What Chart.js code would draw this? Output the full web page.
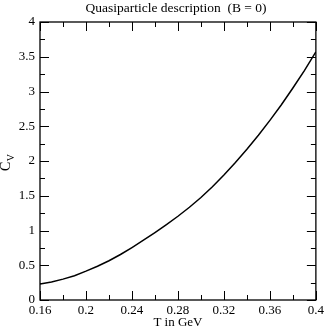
<!DOCTYPE html>
<html>
<head>
<meta charset="utf-8">
<script src="https://cdn.jsdelivr.net/npm/chart.js@4"></script>
<style>
    html, body { margin: 0; padding: 0; background: #fff; }
    canvas { display: block; }
</style>
</head>
<body>
<canvas id="cvChart" width="327" height="329"></canvas>
<script>
// Specific heat vs temperature, quasiparticle description (B = 0)
const temps = [0.16, 0.17, 0.18, 0.19, 0.20, 0.21, 0.22, 0.23, 0.24, 0.25, 0.26, 0.27, 0.28,
    0.29, 0.30, 0.31, 0.32, 0.33, 0.34, 0.35, 0.36, 0.37, 0.38, 0.39, 0.40];
const cv = [0.23, 0.26, 0.30, 0.35, 0.415, 0.485, 0.565, 0.655, 0.755, 0.86, 0.97, 1.085, 1.205,
    1.335, 1.475, 1.63, 1.80, 1.98, 2.17, 2.37, 2.585, 2.81, 3.05, 3.30, 3.57];

const xTicks = [0.16, 0.2, 0.24, 0.28, 0.32, 0.36, 0.4];
const yTicks = [0, 0.5, 1, 1.5, 2, 2.5, 3, 3.5, 4];

const titleText = 'Quasiparticle description  (B = 0)';
const xLabel = 'T in GeV';

const SERIF = '"Liberation Serif", "DejaVu Serif", serif';

// Inward ticks on all four sides, frame and texts
const framePlugin = {
    id: 'frame',
    afterDatasetsDraw(chart) {
        const { ctx, chartArea: a, scales } = chart;
        const xs = scales.x, ys = scales.y;
        ctx.save();
        ctx.strokeStyle = '#000';
        ctx.lineWidth = 1;

        // x ticks (major 0.04, minor 0.02)
        for (let i = 0; i <= 12; i++) {
            const px = Math.round(xs.getPixelForValue(0.16 + 0.02 * i)) + 0.5;
            const len = i % 2 === 0 ? 9 : 5;
            ctx.beginPath();
            ctx.moveTo(px, a.bottom); ctx.lineTo(px, a.bottom - len);
            ctx.moveTo(px, a.top); ctx.lineTo(px, a.top + len);
            ctx.stroke();
        }
        // y ticks (major 0.5, minor 0.25)
        for (let j = 0; j <= 16; j++) {
            const py = Math.round(ys.getPixelForValue(0.25 * j)) + 0.5;
            const len = j % 2 === 0 ? 9 : 5;
            ctx.beginPath();
            ctx.moveTo(a.left, py); ctx.lineTo(a.left + len, py);
            ctx.moveTo(a.right, py); ctx.lineTo(a.right - len, py);
            ctx.stroke();
        }

        ctx.lineWidth = 1.3;
        ctx.strokeRect(a.left, a.top, a.right - a.left, a.bottom - a.top);

        // Title
        ctx.fillStyle = '#000';
        ctx.font = '13.5px ' + SERIF;
        ctx.textAlign = 'center';
        ctx.textBaseline = 'alphabetic';
        ctx.fillText(titleText, 176, 12);

        // X axis label
        ctx.font = '13px ' + SERIF;
        ctx.fillText(xLabel, (a.left + a.right) / 2, 326);

        // Y axis label C_V
        ctx.translate(10, 171);
        ctx.rotate(-Math.PI / 2);
        ctx.textAlign = 'left';
        ctx.font = '14px ' + SERIF;
        ctx.fillText('C', 0, 0);
        const w = ctx.measureText('C').width;
        ctx.font = '10px ' + SERIF;
        ctx.fillText('V', w + 0.5, 4);
        ctx.restore();
    }
};

Chart.defaults.font.family = SERIF;
Chart.defaults.color = '#000';

new Chart(document.getElementById('cvChart'), {
    type: 'line',
    data: {
        datasets: [{
            data: temps.map((t, i) => ({ x: t, y: cv[i] })),
            borderColor: '#000',
            borderWidth: 1.5,
            pointRadius: 0,
            tension: 0,
            fill: false
        }]
    },
    options: {
        responsive: false,
        animation: false,
        layout: { padding: { top: 22, right: 10, left: 0, bottom: 0 } },
        plugins: {
            legend: { display: false },
            tooltip: { enabled: false }
        },
        scales: {
            x: {
                type: 'linear',
                min: 0.16,
                max: 0.4,
                afterFit: s => { s.height = 29; },
                afterBuildTicks: s => { s.ticks = xTicks.map(v => ({ value: v })); },
                grid: { display: false, drawTicks: false },
                border: { display: false },
                ticks: {
                    padding: 3,
                    maxRotation: 0,
                    autoSkip: false,
                    font: { size: 13 },
                    callback: v => String(+v.toFixed(2))
                }
            },
            y: {
                type: 'linear',
                min: 0,
                max: 4,
                afterFit: s => { s.width = 40; },
                afterBuildTicks: s => { s.ticks = yTicks.map(v => ({ value: v })); },
                grid: { display: false, drawTicks: false },
                border: { display: false },
                ticks: {
                    padding: 5,
                    autoSkip: false,
                    font: { size: 13 },
                    callback: v => String(v)
                }
            }
        }
    },
    plugins: [framePlugin]
});
</script>
</body>
</html>
